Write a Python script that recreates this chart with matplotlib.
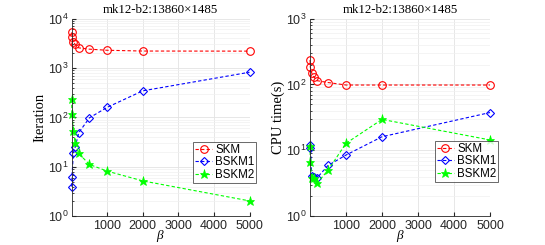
import matplotlib
matplotlib.use("Agg")
import matplotlib.pyplot as plt
from matplotlib.ticker import LogLocator, NullFormatter

# data
beta = [1, 10, 50, 100, 200, 500, 1000, 2000, 5000]
iter_skm = [5250, 4250, 3400, 3000, 2550, 2400, 2280, 2200, 2190]
iter_bskm1 = [4.0, 6.3, 19.5, 25, 49, 98, 160, 345, 820]
iter_bskm2 = [233, 120, 54, 30, 18.7, 11.2, 8.2, 5.2, 2.05]
cpu_skm = [235, 182, 148, 132, 114, 107, 98, 98, 98]
cpu_bskm1 = [12, 11, 4.1, 3.9, 3.85, 5.9, 8.5, 16.1, 37.5]
cpu_bskm2 = [11.6, 6.7, 3.85, 3.8, 3.2, 5.0, 12.8, 29.5, 14.4]
title = "mk12-b2:13860\u00d71485"

plt.rcParams['font.family'] = ['Liberation Sans', 'DejaVu Sans']
plt.rcParams['mathtext.fontset'] = 'custom'
plt.rcParams['mathtext.rm'] = 'Liberation Sans'
plt.rcParams['mathtext.it'] = 'Liberation Serif:italic'

fig = plt.figure(figsize=(5.45, 2.45), dpi=100)
ax1 = fig.add_axes([0.1314, 0.1171, 0.3264, 0.8073])
ax2 = fig.add_axes([0.5688, 0.1171, 0.3303, 0.8073])

def draw(ax, skm, b1, b2, ylim, ylabel, legpos):
    kw = dict(ls='--', lw=0.8, dashes=(3, 2), clip_on=False)
    ax.plot(beta, skm, color='r', marker='o', mfc='none', ms=5.5, mew=0.8, label='SKM', **kw)
    ax.plot(beta, b1, color='b', marker='D', mfc='none', ms=4.2, mew=0.8, label='BSKM1', **kw)
    ax.plot(beta, b2, color='#00ff00', marker='*', ms=6.5, mew=0.5, label='BSKM2', **kw)
    ax.set_yscale('log')
    ax.set_xlim(0, 5000)
    ax.set_ylim(*ylim)
    ax.set_xticks([1000, 2000, 3000, 4000, 5000])
    ax.yaxis.set_major_locator(LogLocator(base=10))
    ax.yaxis.set_minor_locator(LogLocator(base=10, subs=range(2, 10)))
    ax.yaxis.set_minor_formatter(NullFormatter())
    ax.grid(True, which='major', color='#e3e3e3', lw=0.6)
    ax.grid(True, which='minor', axis='y', color='#f0f0f0', lw=0.5)
    ax.set_axisbelow(True)
    ax.tick_params(direction='in', labelsize=9, length=3, pad=2.5, color='#262626',
                   labelcolor='#262626')
    ax.tick_params(which='minor', direction='in', length=1.5, color='#262626')
    for s in ['top', 'right']:
        ax.spines[s].set_visible(False)
    for s in ['left', 'bottom']:
        ax.spines[s].set_color('#262626')
        ax.spines[s].set_linewidth(0.6)
    ax.set_title(title, family='Liberation Serif', fontsize=9.3, pad=4)
    ax.set_ylabel(ylabel, family='Liberation Serif', fontsize=10.5, labelpad=1)
    ax.set_xlabel(r'$\beta$', fontsize=9.5, labelpad=-2.5)
    leg = ax.legend(loc='lower left', bbox_to_anchor=legpos, fontsize=8.3,
                    frameon=True, fancybox=False, edgecolor='#262626',
                    handlelength=1.5, handletextpad=0.25, borderpad=0.15,
                    labelspacing=0.05, borderaxespad=0)
    leg.get_frame().set_linewidth(0.6)

draw(ax1, iter_skm, iter_bskm1, iter_bskm2, (1, 1e4), 'Iteration', (0.685, 0.17))
draw(ax2, cpu_skm, cpu_bskm1, cpu_bskm2, (1, 1e3), 'CPU time(s)', (0.695, 0.175))

fig.savefig('out.png', dpi=100)
